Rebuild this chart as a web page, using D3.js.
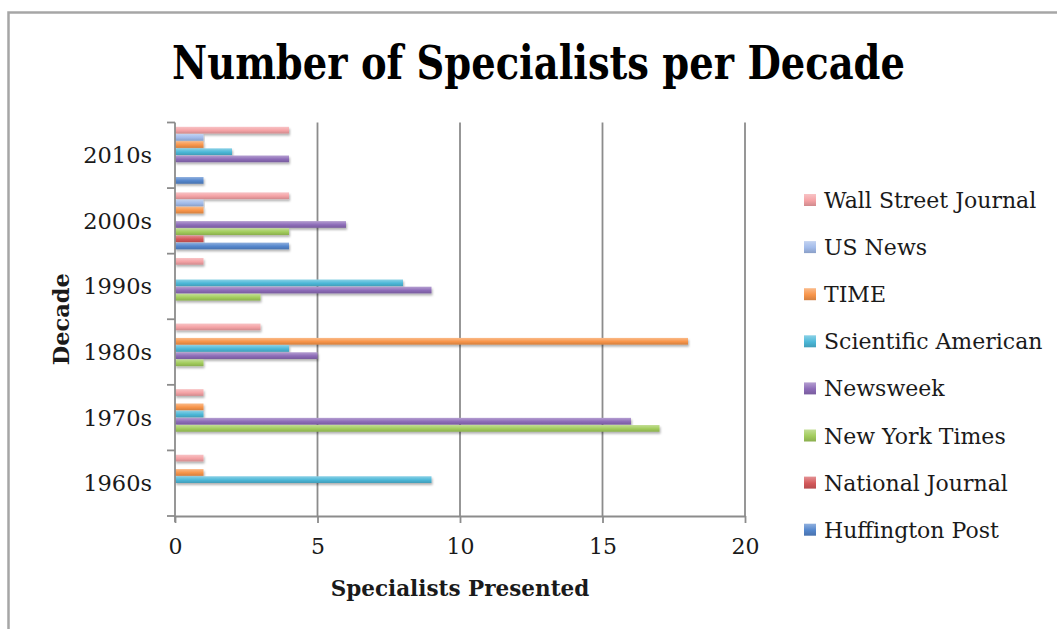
<!DOCTYPE html>
<html>
<head>
<meta charset="utf-8">
<script src="https://cdn.jsdelivr.net/npm/d3@7"></script>
<style>
  body { margin: 0; background: #fff; }
  svg text { font-family: "DejaVu Serif", "Liberation Serif", serif; fill: #1a1a1a; }
</style>
</head>
<body>
<div id="chart"></div>
<script>
const decades = ['2010s', '2000s', '1990s', '1980s', '1970s', '1960s'];
const seriesNames = ['Wall Street Journal', 'US News', 'TIME', 'Scientific American',
  'Newsweek', 'New York Times', 'National Journal', 'Huffington Post'];
const seriesColors = ['#f4a2a5', '#a2bbea', '#f8954a', '#4cb8d8', '#8d6cb8', '#a2cc5c', '#d4585a', '#5486cc'];

// values per series, in the order of decades above
const wallStreetJournal = [4, 4, 1, 3, 1, 1];
const usNews = [1, 1, 0, 0, 0, 0];
const time = [1, 1, 0, 18, 1, 1];
const scientificAmerican = [2, 0, 8, 4, 1, 9];
const newsweek = [4, 6, 9, 5, 16, 0];
const newYorkTimes = [0, 4, 3, 1, 17, 0];
const nationalJournal = [0, 1, 0, 0, 0, 0];
const huffingtonPost = [1, 4, 0, 0, 0, 0];
const xTicks = [0, 5, 10, 15, 20];

const seriesValues = [wallStreetJournal, usNews, time, scientificAmerican,
  newsweek, newYorkTimes, nationalJournal, huffingtonPost];

const width = 1057, height = 629;
const plot = { left: 175, right: 745, top: 122.5, bottom: 516 };

const svg = d3.select('#chart').append('svg')
  .attr('width', width)
  .attr('height', height);

const defs = svg.append('defs');
defs.append('filter').attr('id', 'shadow')
  .attr('x', '-5%').attr('y', '-50%').attr('width', '110%').attr('height', '250%')
  .append('feDropShadow')
  .attr('dx', 1).attr('dy', 2).attr('stdDeviation', 1.2)
  .attr('flood-color', '#000').attr('flood-opacity', 0.3);

seriesColors.forEach((c, i) => {
  const g = defs.append('linearGradient').attr('id', `grad${i}`)
    .attr('x1', 0).attr('y1', 0).attr('x2', 0).attr('y2', 1);
  g.append('stop').attr('offset', '0%').attr('stop-color', d3.interpolateRgb(c, '#fff')(0.35));
  g.append('stop').attr('offset', '55%').attr('stop-color', c);
  g.append('stop').attr('offset', '100%').attr('stop-color', d3.color(c).darker(0.45));
});

// chart border
svg.append('rect')
  .attr('x', 8.5).attr('y', 12.5)
  .attr('width', width + 20).attr('height', height + 20)
  .attr('fill', 'none')
  .attr('stroke', '#a6a6a6')
  .attr('stroke-width', 2.5);

svg.append('text')
  .attr('x', 172).attr('y', 79)
  .attr('textLength', 733)
  .attr('lengthAdjust', 'spacingAndGlyphs')
  .style('font-size', '46px')
  .style('font-weight', 'bold')
  .style('fill', '#000')
  .text('Number of Specialists per Decade');

const x = d3.scaleLinear().domain([0, 20]).range([plot.left, plot.right]);
const y = d3.scaleBand().domain(decades).range([plot.top, plot.bottom]);
const yInner = d3.scaleBand().domain(seriesNames).range([0, y.bandwidth()])
  .paddingInner(0.06).paddingOuter(0.6);

// gridlines
svg.append('g')
  .selectAll('line')
  .data(xTicks.slice(1))
  .enter()
  .append('line')
  .attr('x1', d => x(d)).attr('x2', d => x(d))
  .attr('y1', plot.top).attr('y2', plot.bottom)
  .style('stroke', '#8c8c8c')
  .style('stroke-width', 1.8);

// bars
const groups = svg.append('g')
  .selectAll('g')
  .data(seriesNames)
  .enter()
  .append('g')
  .attr('filter', 'url(#shadow)');

groups.selectAll('rect')
  .data((name, si) => decades.map((dec, di) => ({ dec, name, si, v: seriesValues[si][di] })))
  .enter()
  .append('rect')
  .attr('x', x(0))
  .attr('y', d => y(d.dec) + yInner(d.name))
  .attr('width', d => x(d.v) - x(0))
  .attr('height', yInner.bandwidth())
  .attr('fill', d => `url(#grad${d.si})`);

// x axis
const xAxis = svg.append('g')
  .attr('transform', `translate(0,${plot.bottom})`)
  .call(d3.axisBottom(x).tickValues(xTicks).tickSizeInner(7).tickSizeOuter(0).tickPadding(15));
xAxis.select('.domain').style('stroke', '#8c8c8c').style('stroke-width', 1.8);
xAxis.selectAll('.tick line').style('stroke', '#8c8c8c').style('stroke-width', 1.8);
xAxis.selectAll('.tick text')
  .style('font-size', '22px')
  .style('font-family', '"DejaVu Serif", serif')
  .style('fill', '#1a1a1a');

// y axis: tick marks on category boundaries
svg.append('line')
  .attr('x1', plot.left).attr('x2', plot.left)
  .attr('y1', plot.top).attr('y2', plot.bottom + 6)
  .style('stroke', '#8c8c8c').style('stroke-width', 1.8);

const bounds = decades.map(d => y(d)).concat([plot.bottom]);
svg.append('g')
  .selectAll('line')
  .data(bounds)
  .enter()
  .append('line')
  .attr('x1', plot.left - 8).attr('x2', plot.left)
  .attr('y1', d => d).attr('y2', d => d)
  .style('stroke', '#8c8c8c').style('stroke-width', 1.8);

svg.append('g')
  .selectAll('text')
  .data(decades)
  .enter()
  .append('text')
  .attr('x', 152)
  .attr('y', d => y(d) + y.bandwidth() / 2 + 8)
  .attr('text-anchor', 'end')
  .style('font-size', '22.5px')
  .text(d => d);

// axis titles
svg.append('text')
  .attr('x', x(10)).attr('y', 596)
  .attr('text-anchor', 'middle')
  .style('font-size', '21.5px')
  .style('font-weight', 'bold')
  .text('Specialists Presented');

svg.append('text')
  .attr('transform', `translate(69,${(plot.top + plot.bottom) / 2}) rotate(-90)`)
  .attr('text-anchor', 'middle')
  .style('font-size', '22.5px')
  .style('font-weight', 'bold')
  .text('Decade');

// legend
const legend = svg.append('g')
  .selectAll('g')
  .data(seriesNames)
  .enter()
  .append('g')
  .attr('transform', (d, i) => `translate(804,${200 + i * 47.1})`);

legend.append('rect')
  .attr('x', 0).attr('y', -6)
  .attr('width', 12).attr('height', 12)
  .attr('fill', (d, i) => `url(#grad${i})`);

legend.append('text')
  .attr('x', 20).attr('y', 8)
  .style('font-size', '22px')
  .text(d => d);
</script>
</body>
</html>
